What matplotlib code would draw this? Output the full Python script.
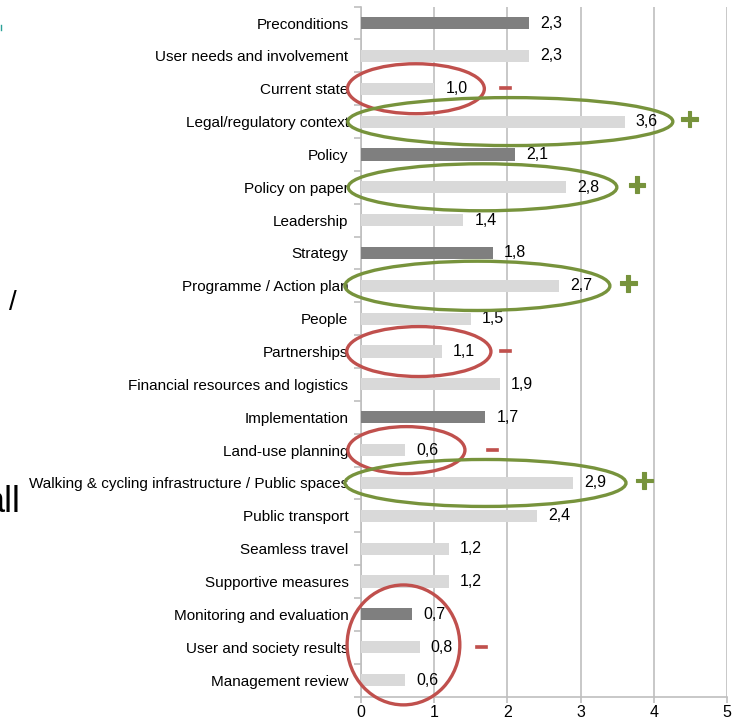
import matplotlib
matplotlib.use("Agg")
import matplotlib.pyplot as plt
from matplotlib.patches import Ellipse
import matplotlib.patheffects as pe

plt.rcParams['font.family'] = ['Liberation Sans', 'DejaVu Sans']

categories = [
    "Preconditions", "User needs and involvement", "Current state",
    "Legal/regulatory context", "Policy", "Policy on paper", "Leadership",
    "Strategy", "Programme / Action plan", "People", "Partnerships",
    "Financial resources and logistics", "Implementation", "Land-use planning",
    "Walking & cycling infrastructure / Public spaces", "Public transport",
    "Seamless travel", "Supportive measures", "Monitoring and evaluation",
    "User and society results", "Management review",
]
values = [2.3, 2.3, 1.0, 3.6, 2.1, 2.8, 1.4, 1.8, 2.7, 1.5, 1.1, 1.9, 1.7,
          0.6, 2.9, 2.4, 1.2, 1.2, 0.7, 0.8, 0.6]
main_groups = ["Preconditions", "Policy", "Strategy", "Implementation",
               "Monitoring and evaluation"]
x_ticks = [0, 1, 2, 3, 4, 5]

# annotation ellipses: (center x, center row, width, height rows, kind)
ellipses = [
    (0.75, 2.0, 1.87, 1.52, "neg"),
    (2.04, 3.0, 4.44, 1.46, "pos"),
    (1.66, 5.0, 3.67, 1.43, "pos"),
    (1.59, 8.0, 3.62, 1.50, "pos"),
    (0.79, 10.0, 1.97, 1.52, "neg"),
    (0.62, 13.0, 1.60, 1.43, "neg"),
    (1.70, 14.0, 3.84, 1.43, "pos"),
    (0.58, 18.93, 1.54, 3.65, "neg"),
]
signs = [
    (1.98, 2.0, "neg"), (4.49, 3.0, "pos"), (3.77, 5.0, "pos"),
    (3.65, 8.0, "pos"), (1.98, 10.0, "neg"), (1.80, 13.0, "neg"),
    (3.87, 14.0, "pos"), (1.64, 19.0, "neg"),
]

RED = "#c0504d"
GREEN = "#77933c"
DARK = "#7f7f7f"
LIGHT = "#d9d9d9"
GRID = "#bfbfbf"

fig = plt.figure(figsize=(7.40, 7.21), dpi=100)
ax = fig.add_axes([361/740, 1 - 696.5/721, (727-361)/740, (696.5-6.6)/721])

ypos = list(range(len(categories)))
colors = [DARK if c in main_groups else LIGHT for c in categories]
ax.barh(ypos, values, height=0.37, color=colors, zorder=3)

for y, v in zip(ypos, values):
    ax.annotate(f"{v:.1f}".replace(".", ","), (v, y), xytext=(8, 0),
                textcoords="offset points", ha="left", va="center",
                fontsize=11.5, color="#000000", zorder=4)

ax.set_xlim(0, 5)
ax.set_ylim(len(categories) - 0.5, -0.5)
ax.set_xticks(x_ticks)
ax.set_xticklabels([str(t) for t in x_ticks], fontsize=11.5)
ax.set_yticks(ypos)
ax.set_yticklabels(categories, fontsize=11)
ax.set_yticks([i - 0.5 for i in range(len(categories) + 1)], minor=True)
ax.tick_params(axis="y", which="major", length=0, pad=9)
ax.tick_params(axis="y", which="minor", length=5, color=GRID, width=1.2)
ax.tick_params(axis="x", length=4, color=GRID, width=1.2, pad=2)

ax.grid(axis="x", color=GRID, linewidth=1.2, zorder=0)
for s in ["top", "right"]:
    ax.spines[s].set_visible(False)
for s in ["left", "bottom"]:
    ax.spines[s].set_color(GRID)
    ax.spines[s].set_linewidth(1.2)

for cx, cy, w, h, kind in ellipses:
    e = Ellipse((cx, cy), w, h, fill=False, lw=2.4,
                edgecolor=RED if kind == "neg" else GREEN,
                clip_on=False, zorder=5)
    ax.add_patch(e)

for sx, sy, kind in signs:
    if kind == "pos":
        ax.text(sx, sy, "+", color=GREEN, fontsize=24, fontweight="bold",
                ha="center", va="center", clip_on=False, zorder=6,
                path_effects=[pe.withStroke(linewidth=0.8, foreground=GREEN,
                                            joinstyle="miter", capstyle="butt")])
    else:
        ax.text(sx, sy, "\u2013", color=RED, fontsize=16, fontweight="bold",
                ha="center", va="center", clip_on=False, zorder=6,
                path_effects=[pe.withStroke(linewidth=1.2, foreground=RED,
                                            joinstyle="miter", capstyle="butt")])

# stray fragments from the slide
fig.text(13/740, 1 - 303/721, "/", fontsize=20, ha="center", va="center")
fig.text(-16/740, 1 - 502/721, "all", fontsize=26, ha="left", va="center")
fig.lines.append(plt.Line2D([0.5/740, 0.5/740], [1 - 25/721, 1 - 30/721],
                            color="#2aa198", lw=1, transform=fig.transFigure))

fig.savefig("out.png", dpi=100)
